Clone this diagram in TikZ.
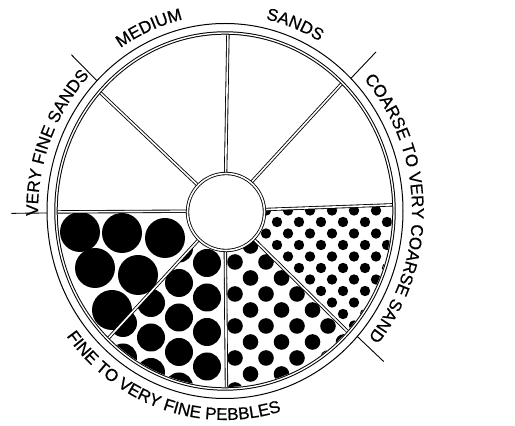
\documentclass[tikz,border=0pt]{standalone}
\usepackage{fontspec}
\setmainfont{Liberation Sans}
\newfontfamily\lblface{Liberation Sans}[FakeBold=0.6]
\usetikzlibrary{decorations.text,calc}
\newcommand\lblfont{\lblface\fontsize{17}{17}\selectfont}
\newcommand\sectorclip[2]{\clip (C) -- ++(#1:167pt and 176pt) arc[start angle=#1, end angle=#2, x radius=167pt, y radius=176pt] -- cycle;}
\begin{document}
\begin{tikzpicture}[x=1pt,y=1pt,
  spoke/.style={draw=black,line width=0.85pt,double=white,double distance=1.6pt},
  ringline/.style={draw=black,line width=1pt},
  tickline/.style={draw=black,line width=0.9pt},
  grain/.style={fill=black},
  screen/.style={yshift=426pt,yscale=-1},
  arclabel/.style={decorate,decoration={text along path,text align=center,text={|\lblfont|#1}}}]
\fill[white] (0,0) rectangle (515,426);
\useasboundingbox (0,0) rectangle (515,426);
\coordinate (C) at (225,215);
\coordinate (I) at (226,214);
% sector 1: coarse pebbles
\begin{scope}
\sectorclip{180.3}{226}
\begin{scope}[screen]
\foreach \x/\y in {80/232,122/233,165/238,95/268,138/275,112/310}
  \fill[grain] (\x,\y) circle[radius=20pt];
\end{scope}
\end{scope}
% sector 2
\begin{scope}
\sectorclip{226}{270.5}
\begin{scope}[screen]
\foreach \k in {0,...,5}
 \foreach \m in {-1,...,4}
  \fill[grain] ({207-28*\k},{263+20*\k+34.5*\m}) circle[radius=14pt];
\end{scope}
\end{scope}
% sector 3
\begin{scope}
\sectorclip{270.5}{317}
\begin{scope}[screen]
\foreach \a in {-1,...,5}
 \foreach \b in {-2,...,5}{
  \fill[grain] ({235+31*\a},{262+32*\b}) circle[radius=7.8pt];
  \fill[grain] ({250.5+31*\a},{278+32*\b}) circle[radius=7.8pt];}
\end{scope}
\end{scope}
% sector 4
\begin{scope}
\sectorclip{317}{362}
\begin{scope}[screen]
\foreach \a in {-2,...,6}
 \foreach \b in {-2,...,6}{
  \fill[grain] ({277+22*\a},{222+23*\b}) circle[radius=5.2pt];
  \fill[grain] ({288+22*\a},{233.5+23*\b}) circle[radius=5.2pt];}
\end{scope}
\end{scope}
% spokes
\foreach \a in {180.3,138,89,46,2,317,270.5,226}
  \draw[spoke] (C) -- ++(\a:167.5pt and 176.5pt);
% rings
\draw[ringline,double=white,double distance=1.4pt] (C) ellipse[x radius=169pt,y radius=178pt];
\draw[ringline] (C) ellipse[x radius=178pt,y radius=187.5pt];
% hub
\draw[spoke,fill=white] (I) circle[radius=38.5pt];
% ticks
\coordinate (tA) at ($(C)+(180.6:178pt and 187.5pt)$);
\coordinate (tAo) at ($(C)!1.2!(tA)$);
\coordinate (tB) at ($(C)+(136:178pt and 187.5pt)$);
\coordinate (tBo) at ($(C)!1.2!(tB)$);
\coordinate (tC) at ($(C)+(45:178pt and 187.5pt)$);
\coordinate (tCo) at ($(C)!1.2!(tC)$);
\coordinate (tD) at ($(C)+(318:178pt and 187.5pt)$);
\coordinate (tDo) at ($(C)!1.2!(tD)$);
\draw[tickline] (tA) -- (tAo);
\draw[tickline] (tB) -- (tBo);
\draw[tickline] (tC) -- (tCo);
\draw[tickline] (tD) -- (tDo);
% labels
\path[arclabel={VERY FINE SANDS},shift={(C)}] (208.5:187pt and 196.5pt) arc[start angle=208.5,end angle=108.5,x radius=187pt,y radius=196.5pt];
\path[arclabel={MEDIUM},shift={(C)}] (158:187pt and 196.5pt) arc[start angle=158,end angle=68,x radius=187pt,y radius=196.5pt];
\path[arclabel={SANDS},shift={(C)}] (114:187pt and 196.5pt) arc[start angle=114,end angle=24,x radius=187pt,y radius=196.5pt];
\path[arclabel={COARSE TO VERY COARSE SAND},shift={(C)}] (60:187pt and 196.5pt) arc[start angle=60,end angle=-58,x radius=187pt,y radius=196.5pt];
\path[arclabel={FINE TO VERY FINE PEBBLES},shift={(C)}] (195:198pt and 209pt) arc[start angle=195,end angle=309,x radius=198pt,y radius=209pt];
\end{tikzpicture}
\end{document}
